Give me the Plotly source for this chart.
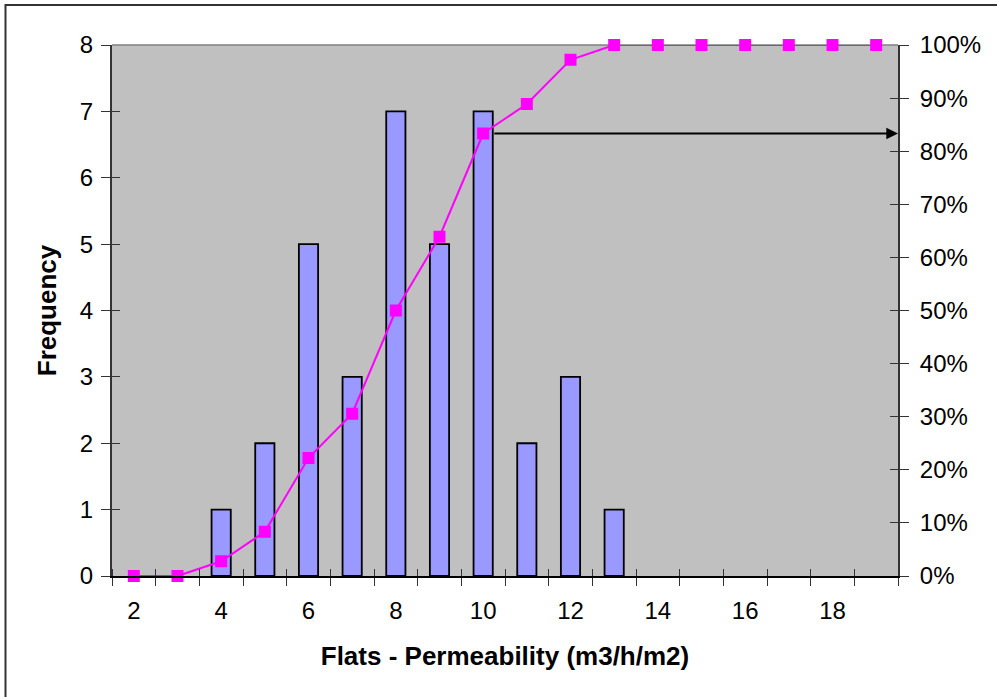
import plotly.graph_objects as go

categories = list(range(2, 20))
frequency = [0, 0, 1, 2, 5, 3, 7, 5, 7, 2, 3, 1, 0, 0, 0, 0, 0, 0]
cumulative = [0.0, 0.0, 0.0278, 0.0833, 0.2222, 0.3056, 0.5, 0.6389, 0.8333,
              0.8889, 0.9722, 1.0, 1.0, 1.0, 1.0, 1.0, 1.0, 1.0]
x_tick_labels = [2, 4, 6, 8, 10, 12, 14, 16, 18]
arrow_category = 10

FONT = "Liberation Sans, Arial, sans-serif"
TICK_SIZE = 24
TITLE_SIZE = 26
X_RANGE = [categories[0] - 0.5, categories[-1] + 0.5]

fig = go.Figure()
fig.add_trace(go.Bar(
    x=categories, y=frequency,
    marker=dict(color="#9999FF",
                line=dict(color="#000000",
                          width=[1.8 if v > 0 else 0 for v in frequency])),
    yaxis="y", showlegend=False, hoverinfo="x+y"))
fig.add_trace(go.Scatter(
    x=categories, y=cumulative, mode="lines+markers",
    line=dict(color="#FF00FF", width=2),
    marker=dict(symbol="square", size=12, color="#FF00FF"),
    cliponaxis=False, yaxis="y2", showlegend=False))
# helper traces so the inner halves of the crossing tick marks are drawn
fig.add_trace(go.Scatter(x=[None], y=[None], xaxis="x2", yaxis="y3",
                         showlegend=False, hoverinfo="skip"))
fig.add_trace(go.Scatter(x=[None], y=[None], xaxis="x", yaxis="y4",
                         showlegend=False, hoverinfo="skip"))

idx = categories.index(arrow_category)
fig.add_annotation(
    x=X_RANGE[1], y=cumulative[idx], xref="x", yref="y2",
    ax=arrow_category + 0.22, ay=cumulative[idx], axref="x", ayref="y2",
    showarrow=True, arrowhead=2, arrowsize=1.3, arrowwidth=1.8,
    arrowcolor="#000000", standoff=0, text="")

# outer frame (top and left visible)
fig.add_shape(type="rect", xref="paper", yref="paper",
              x0=-0.1355, x1=1.2, y0=-0.3, y1=1.0753,
              line=dict(color="#333333", width=2), layer="below")
# gray top border of plot area
fig.add_shape(type="line", xref="paper", yref="paper", x0=0, x1=1, y0=1, y1=1,
              line=dict(color="#808080", width=1.5), layer="below")

fig.update_layout(
    width=997, height=697,
    margin=dict(l=112, r=99, t=45, b=121),
    paper_bgcolor="white", plot_bgcolor="#C0C0C0",
    bargap=0.56,
    font=dict(family=FONT, size=TICK_SIZE, color="#000000"),
    xaxis=dict(range=X_RANGE, tickmode="array", tickvals=x_tick_labels,
               ticktext=[str(v) for v in x_tick_labels],
               ticks="outside", ticklen=12, tickcolor="rgba(0,0,0,0)",
               showgrid=False, zeroline=False,
               showline=True, linecolor="#000000", linewidth=2,
               minor=dict(ticks="outside", tick0=X_RANGE[0], dtick=1, ticklen=8,
                          tickcolor="#333333", tickwidth=1.2, showgrid=False),
               tickfont=dict(size=TICK_SIZE),
               title=dict(text="<b>Flats - Permeability (m3/h/m2)</b>",
                          font=dict(size=TITLE_SIZE), standoff=24)),
    xaxis2=dict(range=X_RANGE, overlaying="x", anchor="y", side="bottom",
                tickmode="array", tickvals=[], showticklabels=False,
                showgrid=False, zeroline=False, showline=False,
                minor=dict(ticks="inside", tick0=X_RANGE[0], dtick=1, ticklen=7,
                           tickcolor="#333333", tickwidth=1.2, showgrid=False)),
    yaxis=dict(range=[0, 8], dtick=1, ticks="outside", ticklen=9,
               tickcolor="#333333", tickwidth=1.2, ticklabelstandoff=3,
               showgrid=False, zeroline=False, showline=True,
               linecolor="#333333", linewidth=2, tickfont=dict(size=TICK_SIZE),
               title=dict(text="<b>Frequency</b>", font=dict(size=TITLE_SIZE),
                          standoff=16)),
    yaxis3=dict(range=[0, 8], dtick=1, overlaying="y", anchor="x", side="left",
                ticks="inside", ticklen=8, tickcolor="#333333", tickwidth=1.2,
                showticklabels=False, showgrid=False, zeroline=False,
                showline=False),
    yaxis2=dict(range=[0, 1], dtick=0.1, tickformat=".0%", overlaying="y",
                side="right", ticks="outside", ticklen=9, tickcolor="#333333",
                tickwidth=1.2, ticklabelstandoff=6,
                showgrid=False, zeroline=False, showline=True,
                linecolor="#333333", linewidth=2, tickfont=dict(size=TICK_SIZE)),
    yaxis4=dict(range=[0, 1], dtick=0.1, overlaying="y", anchor="x", side="right",
                ticks="inside", ticklen=8, tickcolor="#333333", tickwidth=1.2,
                showticklabels=False, showgrid=False, zeroline=False,
                showline=False),
)

fig.write_html("out.html")
